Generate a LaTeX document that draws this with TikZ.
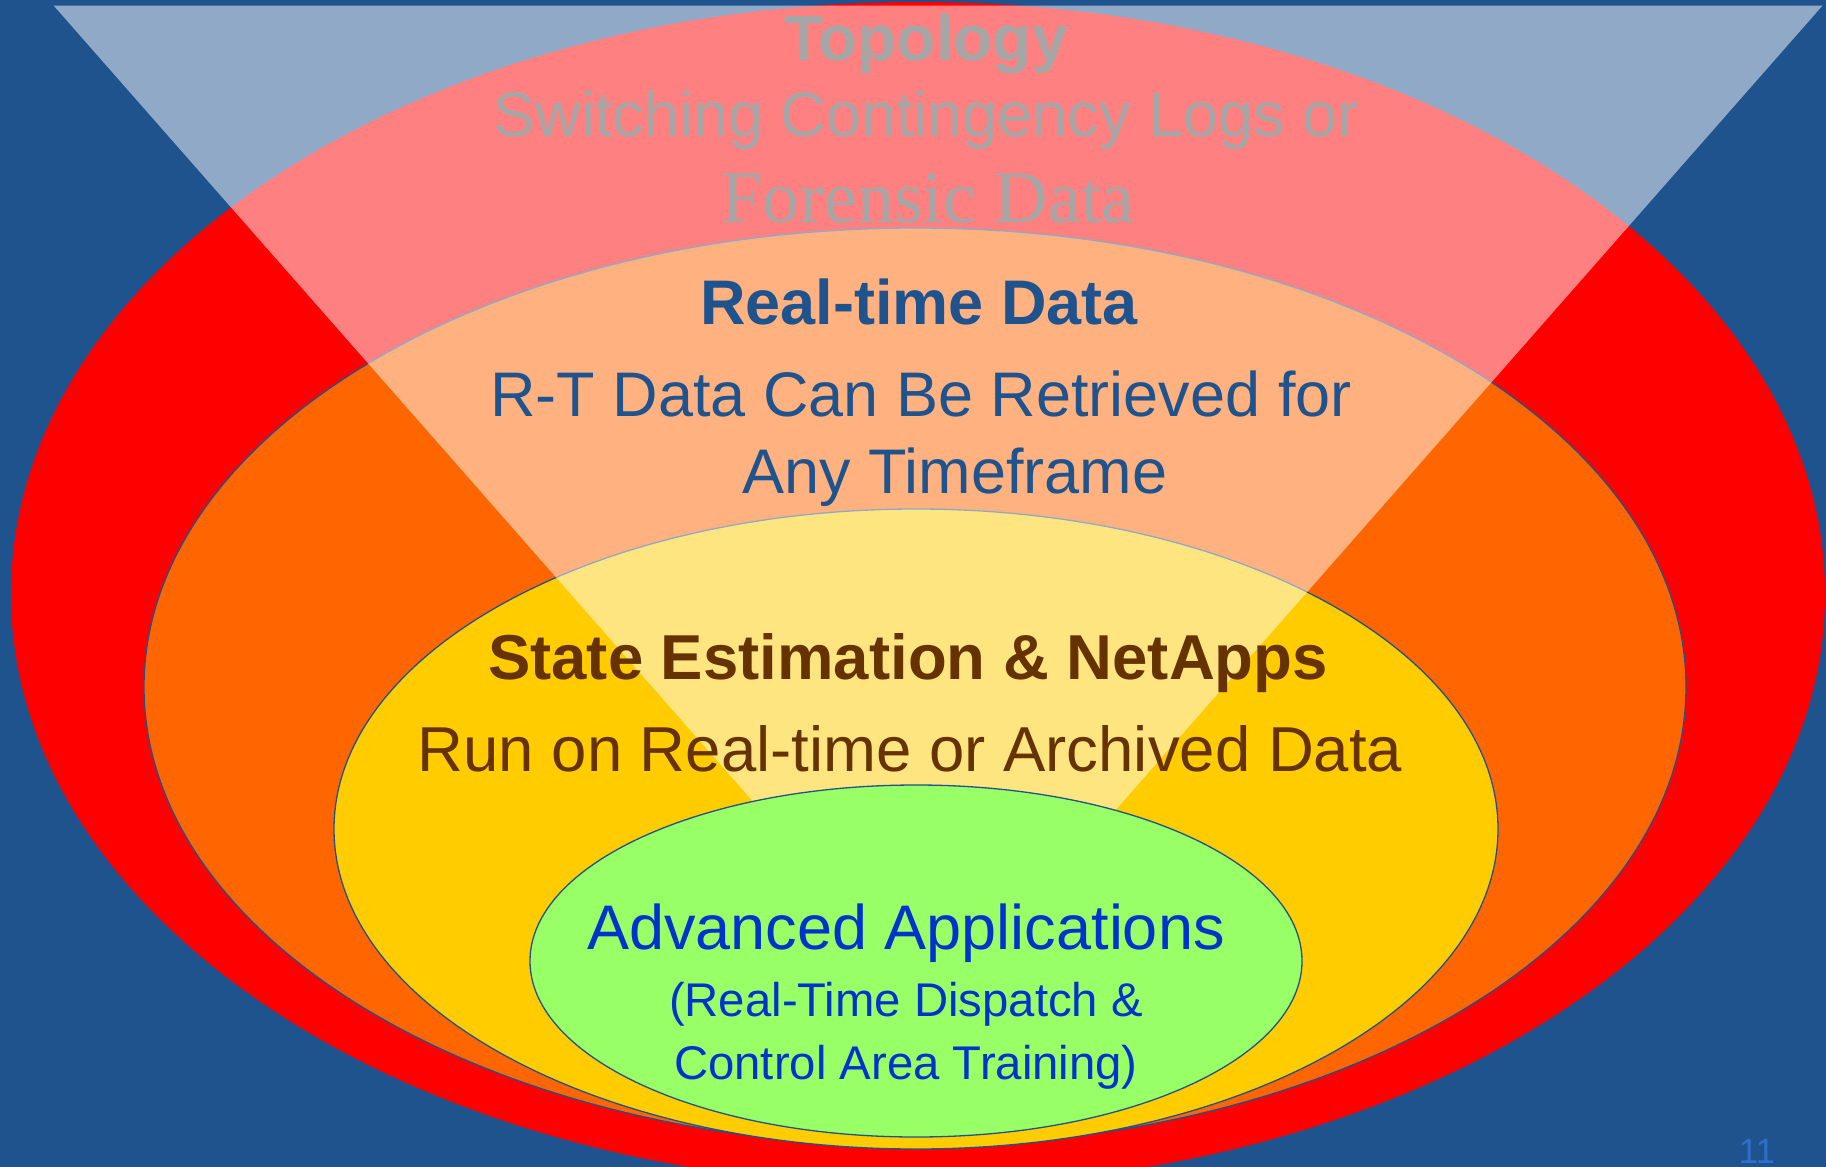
\documentclass[tikz,border=0pt]{standalone}
\usepackage{fontspec}
\setmainfont{Liberation Sans}
\newfontfamily\timesfont{Liberation Serif}
\definecolor{bgblue}{RGB}{31,83,141}
\definecolor{ringred}{RGB}{255,0,0}
\definecolor{ringorange}{RGB}{255,102,0}
\definecolor{ringyellow}{RGB}{255,204,0}
\definecolor{ringgreen}{RGB}{153,255,102}
\definecolor{greytxt}{RGB}{166,166,166}
\definecolor{browntxt}{RGB}{102,51,0}
\definecolor{bluetxt}{RGB}{0,51,204}
\definecolor{numblue}{RGB}{46,111,203}
\tikzset{
  ring/.style={draw=bgblue, line width=1.3pt},
  lbl/.style={anchor=base, inner sep=0pt},
}
\newcommand{\fsz}[1]{\fontsize{#1}{#1}\selectfont}
\begin{document}
\begin{tikzpicture}[x=1pt,y=-1pt]
\useasboundingbox (0,0) rectangle (1826,1167);
\clip (0,0) rectangle (1826,1167);
\fill[bgblue] (0,0) rectangle (1826,1167);
\fill[ringred] (918,594) ellipse [x radius=907pt, y radius=592pt];
\filldraw[fill=ringorange, ring] (915,687) ellipse [x radius=771pt, y radius=459pt];
\filldraw[fill=ringyellow, ring] (916,829) ellipse [x radius=582pt, y radius=320pt];
\fill[white, opacity=0.5] (53.6,5.5) -- (1822.6,5.5) -- (938,1012) -- cycle;
\filldraw[fill=ringgreen, ring] (916,961) ellipse [x radius=386pt, y radius=176pt];

\node[lbl, text=greytxt, font=\bfseries\fsz{64}] (topo) at (926,60) {Topology};
\node[lbl, text=greytxt, font=\fsz{63}] (sw) at (926,136) {Switching Contingency Logs or};
\node[lbl, text=greytxt, font=\timesfont\fsz{74}] (fo) at (928,222) {Forensic Data};

\node[lbl, text=bgblue, font=\bfseries\fsz{63}] (rt) at (919,324) {Real-time Data};
\node[lbl, text=bgblue, font=\fsz{63}] (rtd) at (921,416) {R-T Data Can Be Retrieved for};
\node[lbl, text=bgblue, font=\fsz{63}] (any) at (955,493) {Any Timeframe};

\node[lbl, text=browntxt, font=\bfseries\fsz{63.5}] (se) at (908,679) {State Estimation \& NetApps};
\node[lbl, text=browntxt, font=\fsz{63.5}] (run) at (910,771) {Run on Real-time or Archived Data};

\node[lbl, text=bluetxt, font=\fsz{63}] (adv) at (906,949) {Advanced Applications};
\node[lbl, text=bluetxt, font=\fsz{47.3}] (disp) at (906,1016) {(Real-Time Dispatch \&};
\node[lbl, text=bluetxt, font=\fsz{47.3}] (ctrl) at (906,1079) {Control Area Training)};

\node[lbl, text=numblue, font=\fsz{35}] (pnum) at (1757,1163) {11};
\end{tikzpicture}
\end{document}
